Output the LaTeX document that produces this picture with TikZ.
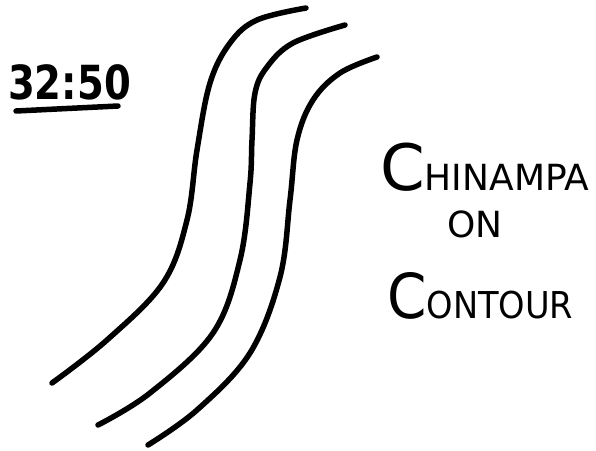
\documentclass[tikz,border=0pt]{standalone}
\usepackage{fontspec}
\setmainfont{DejaVu Sans}
\begin{document}
\begin{tikzpicture}[x=1pt,y=-1pt,
  stroke/.style={line width=5.5pt,line cap=round,line join=round},
  hand/.style={inner sep=0pt,anchor=base west}]
\useasboundingbox (0,0) rectangle (596,450);
% contour lines
\draw[stroke] plot[smooth,tension=0.6] coordinates{(52,383) (107,340) (163,283) (187,220) (197,150) (210,83) (230,43) (257,20) (306,8)};
\draw[stroke] plot[smooth,tension=0.6] coordinates{(98,425) (150,393) (213,333) (240,260) (250,183) (252,140) (255,93) (267,67) (293,43) (345,25)};
\draw[stroke] plot[smooth,tension=0.6] coordinates{(148,445) (197,410) (250,353) (280,277) (290,200) (297,140) (313,100) (340,73) (377,57)};
% time label
\node[hand,xscale=0.82] (time) at (8,99) {\fontsize{47}{47}\selectfont\bfseries 32:50};
\coordinate (u1) at (16,111);
\coordinate (u2) at (118,106);
\draw[stroke] (u1) -- (u2);
% title
\node[hand] (t1) at (380,190) {{\fontsize{64}{64}\selectfont C}{\fontsize{36}{36}\selectfont HINAMPA}};
\node[hand] (t2) at (447,237) {\fontsize{36}{36}\selectfont ON};
\node[hand,xscale=0.91] (t3) at (387,318) {{\fontsize{62}{62}\selectfont C}{\fontsize{37}{37}\selectfont ONTOUR}};
\end{tikzpicture}
\end{document}
